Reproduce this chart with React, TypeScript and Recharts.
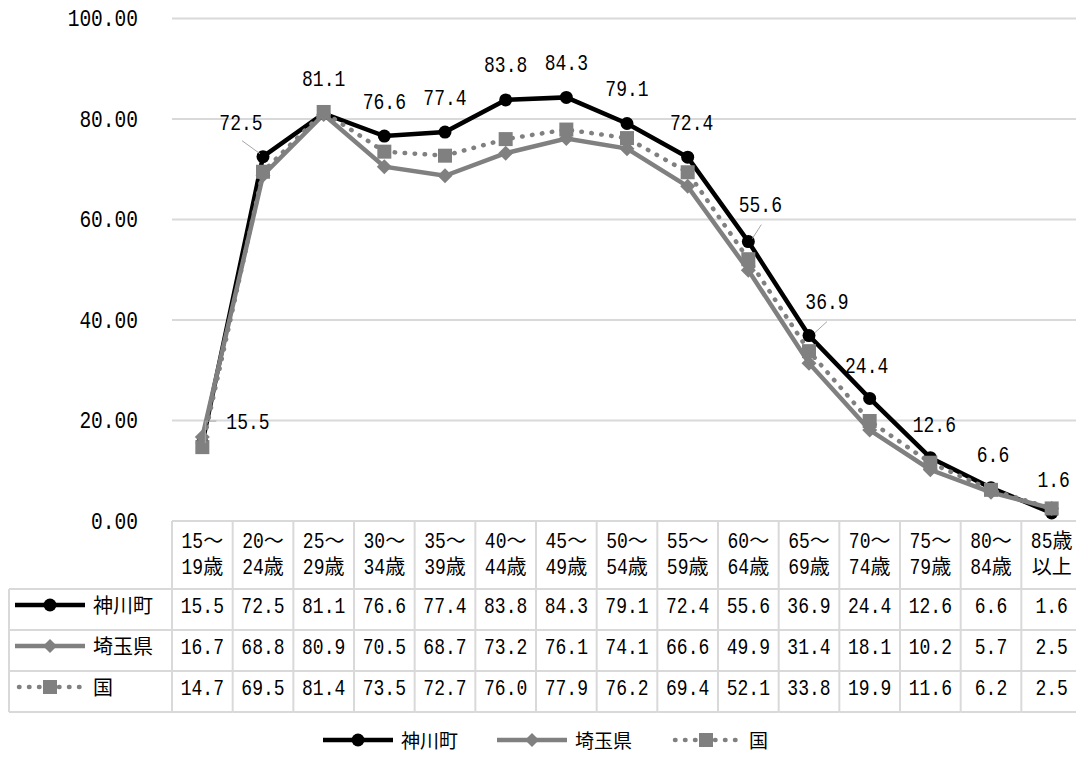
import React from "react";
import { LineChart, Line, XAxis, YAxis, CartesianGrid, Legend } from "recharts";

const AGE_TOP = ["15〜", "20〜", "25〜", "30〜", "35〜", "40〜", "45〜", "50〜", "55〜", "60〜", "65〜", "70〜", "75〜", "80〜", "85歳"];
const AGE_BOTTOM = ["19歳", "24歳", "29歳", "34歳", "39歳", "44歳", "49歳", "54歳", "59歳", "64歳", "69歳", "74歳", "79歳", "84歳", "以上"];
const KAMIKAWA = [15.5, 72.5, 81.1, 76.6, 77.4, 83.8, 84.3, 79.1, 72.4, 55.6, 36.9, 24.4, 12.6, 6.6, 1.6];
const SAITAMA = [16.7, 68.8, 80.9, 70.5, 68.7, 73.2, 76.1, 74.1, 66.6, 49.9, 31.4, 18.1, 10.2, 5.7, 2.5];
const KUNI = [14.7, 69.5, 81.4, 73.5, 72.7, 76.0, 77.9, 76.2, 69.4, 52.1, 33.8, 19.9, 11.6, 6.2, 2.5];
const Y_TICKS = [0, 20, 40, 60, 80, 100];
const SERIES_NAMES = ["神川町", "埼玉県", "国"];
const SERIES_VALUES = [KAMIKAWA, SAITAMA, KUNI];

// layout
const W = 1074;
const H = 744;
const TOP = 10.5;
const AXIS_W = 164;
const PLOT_W = W - AXIS_W;
const COL_W = PLOT_W / AGE_TOP.length;
const HEAD_H = 68;
const ROW_H = 41;
const LEGEND_H = 40;

const BLACK = "#000000";
const GRAY = "#808080";
const BORDER = "#d9d9d9";
const MONO = "'Liberation Mono', 'DejaVu Sans Mono', monospace";
const CJK = "'Noto Sans CJK JP', 'Noto Sans', sans-serif";

// narrow, tall digits (gothic-like): mono font squeezed horizontally
const NUM_SIZE = 22;
const NUM_SX = 0.82;
const NUM_CHAR_W = 0.6 * NUM_SIZE * NUM_SX;
const KANJI_SIZE = 20;

const data = AGE_TOP.map((t, i) => ({
  age: t + AGE_BOTTOM[i],
  kamikawa: KAMIKAWA[i],
  saitama: SAITAMA[i],
  kuni: KUNI[i],
}));

// label placement for 神川町 (offsets from the point)
const LABEL_POS: Record<number, { dx: number; dy: number; anchor?: string; leader?: number[][] }> = {
  0: { dx: 24, dy: -22, anchor: "start", leader: [[3, 0], [3, -22], [14, -22]] },
  1: { dx: -22, dy: -34, leader: [[-3, -3], [-21, -16]] },
  8: { dx: 4, dy: -35 },
  9: { dx: 12, dy: -37, leader: [[4, -3], [13, -17]] },
  10: { dx: 18, dy: -34, leader: [[6, -3], [18, -14]] },
  11: { dx: -3, dy: -33 },
  12: { dx: 4, dy: -33 },
  13: { dx: 2, dy: -33 },
  14: { dx: 2, dy: -33 },
};

function NumText({ x, y, text, anchor = "middle", size = NUM_SIZE, sx = NUM_SX }: any) {
  return (
    <text transform={`translate(${x},${y}) scale(${sx},1)`} x={0} y={0} textAnchor={anchor}
      fontFamily={MONO} fontSize={size} fill="#000">
      {text}
    </text>
  );
}

// y is the visual centre line of the text
function MixedText({ x, y, text, anchor = "middle" }: any) {
  const runs: string[] = text.match(/[\x00-\x7f]+|[^\x00-\x7f]+/g) || [];
  const widths = runs.map((r) => (/^[\x00-\x7f]/.test(r) ? r.length * NUM_CHAR_W : r.length * KANJI_SIZE));
  const total = widths.reduce((a, b) => a + b, 0);
  let cx = anchor === "middle" ? x - total / 2 : x;
  return (
    <g>
      {runs.map((r, i) => {
        const sx = cx;
        cx += widths[i];
        return /^[\x00-\x7f]/.test(r) ? (
          <NumText key={i} x={sx} y={y + 7.5} text={r} anchor="start" />
        ) : (
          <text key={i} x={sx} y={y + 7.5} fontFamily={CJK} fontSize={KANJI_SIZE} fill="#000">{r}</text>
        );
      })}
    </g>
  );
}

function KeyIcon({ kind, x, y }: any) {
  const x2 = x + 70;
  const mid = x + 35;
  if (kind === 0) {
    return (
      <g>
        <line x1={x} y1={y} x2={x2} y2={y} stroke={BLACK} strokeWidth={4.5} />
        <circle cx={mid} cy={y} r={6.5} fill={BLACK} />
      </g>
    );
  }
  if (kind === 1) {
    return (
      <g>
        <line x1={x} y1={y} x2={x2} y2={y} stroke={GRAY} strokeWidth={4.5} />
        <path d={`M${mid},${y - 7}L${mid + 7},${y}L${mid},${y + 7}L${mid - 7},${y}Z`} fill={GRAY} />
      </g>
    );
  }
  return (
    <g>
      <line x1={x + 4} y1={y} x2={x2 - 4} y2={y} stroke={GRAY} strokeWidth={4.5}
        strokeDasharray="0.5 9.5" strokeLinecap="round" />
      <rect x={mid - 7} y={y - 7} width={14} height={14} fill={GRAY} />
    </g>
  );
}

function YTick(props: any) {
  const { x, y, payload } = props;
  return <NumText x={x} y={y + 7.5} text={Number(payload.value).toFixed(2)} anchor="end" size={23} sx={0.85} />;
}

function HeaderTick(props: any) {
  const { x, y, payload } = props;
  const i = payload.index;
  const left = x - COL_W / 2;
  return (
    <g>
      <line x1={left} y1={y} x2={left} y2={y + HEAD_H} stroke={BORDER} strokeWidth={2} />
      {i === AGE_TOP.length - 1 && (
        <line x1={left + COL_W} y1={y} x2={left + COL_W} y2={y + HEAD_H} stroke={BORDER} strokeWidth={2} />
      )}
      <line x1={left} y1={y + HEAD_H} x2={left + COL_W} y2={y + HEAD_H} stroke={BORDER} strokeWidth={2} />
      <MixedText x={x} y={y + 19} text={AGE_TOP[i]} />
      <MixedText x={x} y={y + 45} text={AGE_BOTTOM[i]} />
    </g>
  );
}

function makeRowTick(s: number) {
  return function RowTick(props: any) {
    const { x, y, payload } = props;
    const i = payload.index;
    const left = x - COL_W / 2;
    return (
      <g>
        {i === 0 && (
          <g>
            {s === 0 && <line x1={1} y1={y} x2={left} y2={y} stroke={BORDER} strokeWidth={2} />}
            <line x1={1} y1={y} x2={1} y2={y + ROW_H} stroke={BORDER} strokeWidth={2} />
            <line x1={1} y1={y + ROW_H} x2={left} y2={y + ROW_H} stroke={BORDER} strokeWidth={2} />
            <KeyIcon kind={s} x={7} y={y + 16} />
            <MixedText x={85} y={y + 16} text={SERIES_NAMES[s]} anchor="start" />
          </g>
        )}
        <line x1={left} y1={y} x2={left} y2={y + ROW_H} stroke={BORDER} strokeWidth={2} />
        {i === AGE_TOP.length - 1 && (
          <line x1={left + COL_W} y1={y} x2={left + COL_W} y2={y + ROW_H} stroke={BORDER} strokeWidth={2} />
        )}
        <line x1={left} y1={y + ROW_H} x2={left + COL_W} y2={y + ROW_H} stroke={BORDER} strokeWidth={2} />
        <MixedText x={x} y={y + 16} text={SERIES_VALUES[s][i].toFixed(1)} />
      </g>
    );
  };
}

const RowTick0 = makeRowTick(0);
const RowTick1 = makeRowTick(1);
const RowTick2 = makeRowTick(2);

const circleDot = (p: any) => <circle key={`c${p.index}`} cx={p.cx} cy={p.cy} r={6.5} fill={BLACK} />;
const diamondDot = (p: any) => (
  <path key={`d${p.index}`} fill={GRAY}
    d={`M${p.cx},${p.cy - 7.5}L${p.cx + 7.5},${p.cy}L${p.cx},${p.cy + 7.5}L${p.cx - 7.5},${p.cy}Z`} />
);
const squareDot = (p: any) => (
  <rect key={`s${p.index}`} x={p.cx - 7} y={p.cy - 7} width={14} height={14} fill={GRAY} />
);

const labelDot = (p: any) => {
  const pos = LABEL_POS[p.index] || { dx: 0, dy: -35 };
  const leader = pos.leader;
  return (
    <g key={`l${p.index}`}>
      {leader && (
        <polyline fill="none" stroke="#a6a6a6" strokeWidth={1}
          points={leader.map(([dx, dy]) => `${p.cx + dx},${p.cy + dy}`).join(" ")} />
      )}
      <NumText x={p.cx + pos.dx} y={p.cy + pos.dy + 7.5} text={KAMIKAWA[p.index].toFixed(1)}
        anchor={pos.anchor || "middle"} />
    </g>
  );
};

function LegendContent() {
  return (
    <div style={{ height: LEGEND_H, boxSizing: "border-box", paddingTop: 20, display: "flex", justifyContent: "center" }}>
      {SERIES_NAMES.map((n, s) => (
        <div key={n} style={{ display: "flex", alignItems: "center", marginRight: s < 2 ? 38 : 0, height: 16 }}>
          <svg width={72} height={16} style={{ display: "block" }}>
            <KeyIcon kind={s} x={1} y={8} />
          </svg>
          <span style={{ fontFamily: CJK, fontSize: 19, marginLeft: 7, color: "#000", lineHeight: "16px" }}>{n}</span>
        </div>
      ))}
    </div>
  );
}

export default function App() {
  return (
    <div style={{ width: W, height: H }}>
      <LineChart width={W} height={H} data={data} margin={{ top: TOP, right: 0, left: 0, bottom: 0 }}>
        <CartesianGrid xAxisId="head" vertical={false} stroke={BORDER} strokeWidth={2} />
        <YAxis
          width={AXIS_W}
          domain={[0, 100]}
          ticks={Y_TICKS}
          interval={0}
          axisLine={false}
          tickLine={false}
          tickSize={0}
          tickMargin={34}
          tick={<YTick />}
        />
        <XAxis xAxisId="head" dataKey="age" height={HEAD_H} interval={0} axisLine={false} tickLine={false}
          tickSize={0} tickMargin={0} padding={{ left: COL_W / 2, right: COL_W / 2 }} tick={<HeaderTick />} />
        <XAxis xAxisId="r0" dataKey="age" height={ROW_H} interval={0} axisLine={false} tickLine={false}
          tickSize={0} tickMargin={0} padding={{ left: COL_W / 2, right: COL_W / 2 }} tick={<RowTick0 />} />
        <XAxis xAxisId="r1" dataKey="age" height={ROW_H} interval={0} axisLine={false} tickLine={false}
          tickSize={0} tickMargin={0} padding={{ left: COL_W / 2, right: COL_W / 2 }} tick={<RowTick1 />} />
        <XAxis xAxisId="r2" dataKey="age" height={ROW_H} interval={0} axisLine={false} tickLine={false}
          tickSize={0} tickMargin={0} padding={{ left: COL_W / 2, right: COL_W / 2 }} tick={<RowTick2 />} />
        <Legend verticalAlign="bottom" content={<LegendContent />} />
        <Line xAxisId="head" type="linear" dataKey="kamikawa" name="神川町" stroke={BLACK} strokeWidth={4.5}
          dot={circleDot} activeDot={false} isAnimationActive={false} />
        <Line xAxisId="head" type="linear" dataKey="saitama" name="埼玉県" stroke={GRAY} strokeWidth={4.5}
          dot={diamondDot} activeDot={false} isAnimationActive={false} />
        <Line xAxisId="head" type="linear" dataKey="kuni" name="国" stroke={GRAY} strokeWidth={4.5}
          strokeDasharray="0.5 9.5" strokeLinecap="round" dot={squareDot} activeDot={false} isAnimationActive={false} />
        <Line xAxisId="head" type="linear" dataKey="kamikawa" stroke="none" legendType="none"
          dot={labelDot} activeDot={false} isAnimationActive={false} />
      </LineChart>
    </div>
  );
}
